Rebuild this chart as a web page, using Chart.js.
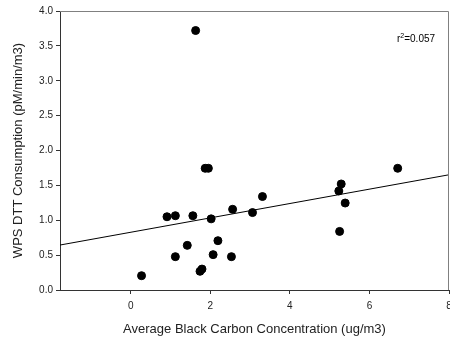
<!DOCTYPE html>
<html>
<head>
<meta charset="utf-8">
<script src="https://cdn.jsdelivr.net/npm/chart.js@4"></script>
<style>
  html, body { margin: 0; padding: 0; background: #fff; }
  #wrap { width: 450px; height: 341px; }
</style>
</head>
<body>
<div id="wrap"><canvas id="dttChart"></canvas></div>
<script>
// black carbon (ug/m3) vs DTT consumption (pM/min/m3)
const blackCarbon = [1.63, 1.87, 1.95, 3.31, 0.91, 1.12, 1.56, 2.02, 2.56, 3.06, 2.19, 1.42,
                     1.12, 2.07, 2.53, 1.74, 1.79, 0.27, 5.29, 5.23, 5.39, 5.25, 6.71];
const dttConsumption = [3.72, 1.745, 1.745, 1.34, 1.05, 1.065, 1.065, 1.02, 1.157, 1.11, 0.707, 0.64,
                        0.478, 0.507, 0.478, 0.268, 0.30, 0.205, 1.52, 1.42, 1.247, 0.84, 1.745];
const xTicks = [0, 2, 4, 6, 8];
const xRange = [-1.78, 8];
const fitIntercept = 0.828;
const fitSlope = 0.103;
const rSquared = "0.057";

const points = blackCarbon.map((x, i) => ({ x: x, y: dttConsumption[i] }));
const fitLine = xRange.map(x => ({ x: x, y: fitIntercept + fitSlope * x }));

const FONT = "'Liberation Sans', Arial, sans-serif";

// don't let the point radius push the plot area in from the right edge
Chart.registry.getController('scatter').prototype.getMaxOverflow = () => 0;
Chart.registry.getController('line').prototype.getMaxOverflow = () => 0;

const frameAndLabel = {
    id: 'frameAndLabel',
    afterDraw(chart) {
        const { ctx, chartArea: a } = chart;
        ctx.save();
        ctx.strokeStyle = '#808080';
        ctx.lineWidth = 1;
        ctx.beginPath();
        ctx.moveTo(a.left, a.top + 0.5);
        ctx.lineTo(a.right - 0.5, a.top + 0.5);
        ctx.lineTo(a.right - 0.5, a.bottom);
        ctx.stroke();

        // r² label
        ctx.fillStyle = '#000';
        ctx.textBaseline = 'alphabetic';
        ctx.font = '10px ' + FONT;
        let x = 397, y = 42;
        ctx.fillText('r', x, y);
        x += ctx.measureText('r').width;
        ctx.font = '7px ' + FONT;
        ctx.fillText('2', x, y - 4);
        x += ctx.measureText('2').width;
        ctx.font = '10px ' + FONT;
        ctx.fillText('=' + rSquared, x, y);
        ctx.restore();
    }
};

new Chart(document.getElementById('dttChart').getContext('2d'), {
    type: 'scatter',
    data: {
        datasets: [
            {
                label: 'samples',
                data: points,
                backgroundColor: '#000',
                borderColor: '#000',
                pointRadius: 4,
                pointHoverRadius: 4
            },
            {
                type: 'line',
                label: 'fit',
                data: fitLine,
                borderColor: '#000',
                borderWidth: 1,
                pointRadius: 0,
                fill: false
            }
        ]
    },
    options: {
        responsive: true,
        maintainAspectRatio: false,
        animation: false,
        layout: { padding: { top: 11, right: 1, left: 0, bottom: 0 } },
        plugins: {
            legend: { display: false },
            tooltip: { enabled: false }
        },
        scales: {
            x: {
                type: 'linear',
                min: xRange[0],
                max: xRange[1],
                afterBuildTicks: axis => { axis.ticks = xTicks.map(v => ({ value: v })); },
                afterFit: axis => {
                    axis.height = 51;
                    axis.paddingLeft = 0;
                    axis.paddingRight = 0;
                },
                grid: { drawOnChartArea: false, tickLength: 4, color: '#333' },
                border: { color: '#333', width: 1 },
                ticks: {
                    color: '#222',
                    font: { family: FONT, size: 10 },
                    padding: 6,
                    maxRotation: 0,
                    callback: v => v
                },
                title: {
                    display: true,
                    text: 'Average Black Carbon Concentration (ug/m3)',
                    color: '#222',
                    font: { family: FONT, size: 13 },
                    padding: { top: 4 }
                }
            },
            y: {
                min: 0,
                max: 4,
                afterFit: axis => { axis.width = 60; },
                grid: { drawOnChartArea: false, tickLength: 4, color: '#333' },
                border: { color: '#333', width: 1 },
                ticks: {
                    stepSize: 0.5,
                    color: '#222',
                    font: { family: FONT, size: 10 },
                    padding: 3,
                    callback: v => v.toFixed(1)
                },
                title: {
                    display: true,
                    text: 'WPS DTT Consumption (pM/min/m3)',
                    color: '#222',
                    font: { family: FONT, size: 13 },
                    padding: { top: 11, bottom: 4 }
                }
            }
        }
    },
    plugins: [frameAndLabel]
});
</script>
</body>
</html>
